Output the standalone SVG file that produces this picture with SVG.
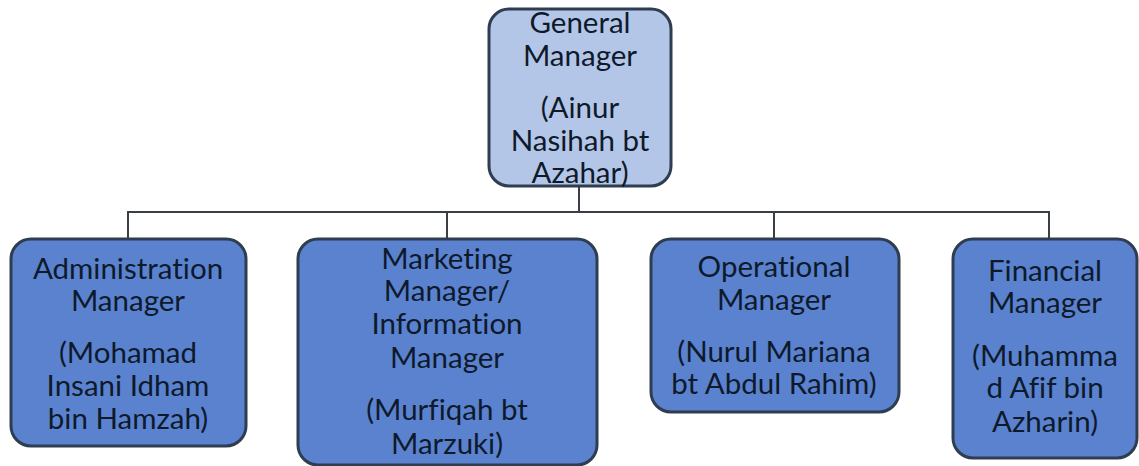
<svg xmlns="http://www.w3.org/2000/svg" width="1139" height="466" viewBox="0 0 1139 466">
<style>
.box{stroke:#2e3d50;stroke-width:3}
.top{fill:#b4c6e7}
.sub{fill:#5a82cf}
text{font-family:Lato,"Liberation Sans",sans-serif;font-size:29.5px;fill:#0e1a2b;text-anchor:middle;font-variant-ligatures:none;font-feature-settings:"liga" 0}
.conn{stroke:#3a3f45;stroke-width:2;fill:none}
</style>
<g id="connectors">
<path class="conn" d="M579 185 V212 M128 238 V212 H1049 V238 M447 212 V238 M774 212 V238"/>
</g>
<g id="gm">
<rect class="box top" x="489" y="9" width="182" height="177" rx="20"/>
<text x="580" y="33">General</text>
<text x="580" y="66">Manager</text>
<text x="580" y="118">(Ainur</text>
<text x="580" y="151">Nasihah bt</text>
<text x="580" y="183">Azahar)</text>
</g>
<g id="admin">
<rect class="box sub" x="11" y="239" width="235" height="207" rx="20"/>
<text x="128" y="279">Administration</text>
<text x="128" y="311">Manager</text>
<text x="128" y="363">(Mohamad</text>
<text x="128" y="396">Insani Idham</text>
<text x="128" y="429">bin Hamzah)</text>
</g>
<g id="marketing">
<rect class="box sub" x="298" y="239" width="299" height="226" rx="20"/>
<text x="447" y="269">Marketing</text>
<text x="447" y="301">Manager/</text>
<text x="447" y="334">Information</text>
<text x="447" y="368">Manager</text>
<text x="447" y="420">(Murfiqah bt</text>
<text x="447" y="454">Marzuki)</text>
</g>
<g id="operational">
<rect class="box sub" x="651" y="239" width="248" height="173" rx="20"/>
<text x="774" y="277">Operational</text>
<text x="774" y="310">Manager</text>
<text x="774" y="362">(Nurul Mariana</text>
<text x="774" y="394">bt Abdul Rahim)</text>
</g>
<g id="financial">
<rect class="box sub" x="953" y="239" width="184" height="219" rx="20"/>
<text x="1045" y="281">Financial</text>
<text x="1045" y="313">Manager</text>
<text x="1045" y="366">(Muhamma</text>
<text x="1045" y="398">d Afif bin</text>
<text x="1045" y="432">Azharin)</text>
</g>
</svg>
